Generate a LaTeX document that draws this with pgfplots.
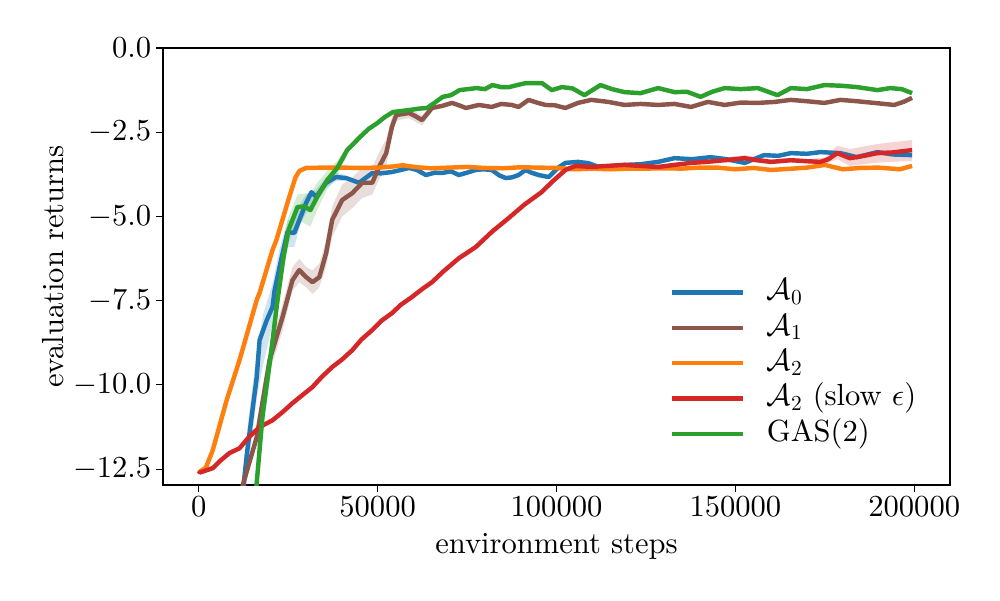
\documentclass[border=0pt]{standalone}
\DeclareFontShape{OT1}{cmr}{m}{n}{<->cmr10}{}
\DeclareFontShape{OML}{cmm}{m}{it}{<->cmmi10}{}
\DeclareFontShape{OMS}{cmsy}{m}{n}{<->cmsy10}{}
\DeclareFontShape{TU}{lmr}{m}{n}{<-> "[lmroman10-regular]:mapping=tex-text"}{}
\usepackage{pgfplots}
\pgfplotsset{compat=1.18}
\definecolor{cA}{HTML}{1F77B4}
\definecolor{cB}{HTML}{8C564B}
\definecolor{cC}{HTML}{FF7F0E}
\definecolor{cD}{HTML}{D62728}
\definecolor{cE}{HTML}{2CA02C}
\newcommand{\fs}{\fontsize{22}{26}\selectfont}
\begin{document}
\begin{tikzpicture}
\useasboundingbox (0,0) rectangle (720pt,432pt);
\begin{axis}[
  at={(117.36pt,82.8pt)}, anchor=south west,
  width=566.64pt, height=314.64pt, scale only axis,
  xmin=-10000, xmax=210000, ymin=-12.97, ymax=0,
  xtick={0,50000,100000,150000,200000},
  ytick={-12.5,-10,-7.5,-5,-2.5,0},
  scaled x ticks=false,
  xticklabel style={/pgf/number format/fixed,/pgf/number format/1000 sep={}},
  yticklabel style={/pgf/number format/fixed,/pgf/number format/precision=1,/pgf/number format/fixed zerofill},
  tick label style={font=\fs},
  label style={font=\fs},
  xlabel={environment steps}, ylabel={evaluation returns},
  xlabel style={yshift=-5pt},
  tick align=outside, tick pos=left,
  major tick length=5pt,
  every tick/.style={black, line width=0.8pt},
  axis line style={line width=0.8pt},
  legend style={draw=none, fill=none, at={(0.643,0.482)}, anchor=north west, inner sep=0pt,
    font=\fs, row sep=0pt, nodes={inner sep=2pt, text height=16pt, text depth=5.5pt}},
  legend cell align=left,
  legend image code/.code={\draw[#1] (0pt,0pt) -- (51.1pt,0pt); \path (65pt,0pt);},
  every axis plot/.append style={line width=3.2pt, line join=round},
]
% ---------- bands ----------
\addplot[fill=cA, fill opacity=0.2, draw=none, forget plot] coordinates {
(12000,-13.0)(14000,-10.9)(16200,-9.0)(18000,-7.9)(20600,-7.0)(22500,-6.0)(24800,-5.1)(26700,-5.1)(28500,-4.6)(30000,-4.35)(32800,-4.2)(35600,-3.85)(38400,-3.7)(41200,-3.78)
(41200,-3.95)(38400,-3.95)(35600,-4.15)(32800,-4.6)(30000,-4.9)(28500,-5.2)(26700,-5.9)(24800,-5.9)(22500,-7.0)(20600,-8.2)(18000,-9.4)(16200,-10.4)(14000,-12.3)(12000,-14.5)};
\addplot[fill=cB, fill opacity=0.2, draw=none, forget plot] coordinates {
(16200,-11.1)(19800,-8.9)(23400,-7.6)(26200,-6.5)(28100,-6.25)(30000,-6.5)(31800,-6.6)(33700,-6.4)(35600,-5.7)(37300,-4.7)(40100,-4.05)(42900,-3.85)(45700,-3.55)(48500,-3.55)(50400,-3.1)(52400,-2.7)(54000,-2.05)(55200,-1.85)(58800,-1.8)(62400,-2.0)(65200,-1.68)
(65200,-1.9)(62400,-2.3)(58800,-2.08)(55200,-2.15)(54000,-2.6)(52400,-3.5)(50400,-3.9)(48500,-4.35)(45700,-4.45)(42900,-4.75)(40100,-5.0)(37300,-5.6)(35600,-6.5)(33700,-7.1)(31800,-7.3)(30000,-7.1)(28100,-6.95)(26200,-7.2)(23400,-8.4)(19800,-9.6)(16200,-12.0)};
\addplot[fill=cE, fill opacity=0.2, draw=none, forget plot] coordinates {
(17800,-10.5)(20300,-8.5)(21900,-7.1)(23700,-5.8)(25100,-5.0)(27600,-4.35)(31200,-4.3)(33100,-4.0)(35900,-3.65)(38700,-3.35)(41500,-2.9)
(41500,-3.2)(38700,-3.8)(35900,-4.2)(33100,-4.8)(31200,-5.3)(27600,-5.1)(25100,-5.8)(23700,-6.6)(21900,-8.0)(20300,-9.5)(17800,-11.4)};
\addplot[fill=cD, fill opacity=0.2, draw=none, forget plot] coordinates {
(147000,-3.25)(152600,-3.18)(160000,-3.3)(165500,-3.27)(170000,-3.3)(175000,-3.25)(178500,-2.9)(182000,-3.0)(189700,-2.85)(199400,-2.73)
(199400,-3.35)(189700,-3.4)(182000,-3.5)(178500,-3.3)(175000,-3.45)(170000,-3.42)(165500,-3.4)(160000,-3.45)(152600,-3.36)(147000,-3.41)};
% ---------- A0 ----------
\addplot[cA] coordinates {
(11500,-14.0)(13500,-12.0)(16200,-9.77)(17000,-8.67)(19000,-8.08)(20600,-7.69)(21200,-7.19)(23000,-6.3)(24800,-5.46)(26700,-5.49)(28500,-5.0)(30000,-4.6)(31500,-4.28)(32800,-4.42)(35600,-4.0)(38400,-3.83)(41200,-3.86)(44800,-4.0)(48500,-3.71)(51000,-3.72)(54000,-3.68)(56500,-3.62)(58800,-3.56)(61000,-3.62)(63500,-3.77)(66000,-3.7)(68000,-3.71)(70500,-3.66)(72700,-3.77)(75000,-3.7)(77400,-3.62)(79500,-3.6)(81900,-3.62)(84000,-3.78)(85800,-3.86)(87500,-3.84)(89400,-3.77)(91300,-3.62)(93000,-3.7)(95000,-3.77)(97800,-3.83)(100500,-3.55)(102500,-3.41)(106000,-3.38)(109000,-3.42)(112500,-3.56)(116000,-3.5)(119000,-3.47)(123500,-3.45)(128400,-3.38)(133000,-3.27)(138000,-3.3)(143000,-3.24)(147500,-3.3)(152600,-3.41)(158000,-3.18)(162000,-3.2)(165500,-3.12)(170000,-3.14)(173800,-3.09)(179400,-3.12)(184000,-3.24)(187000,-3.16)(189700,-3.09)(194000,-3.16)(199400,-3.18)};
\addlegendentry{$\mathcal{A}_0$}
% ---------- A1 ----------
\addplot[cB] coordinates {
(9500,-14.0)(16200,-11.55)(19800,-9.26)(23400,-7.99)(26200,-6.89)(28100,-6.59)(30000,-6.8)(31800,-6.95)(33700,-6.8)(35600,-6.09)(37300,-5.1)(40100,-4.51)(42900,-4.31)(45700,-4.0)(48500,-4.0)(50400,-3.53)(52400,-3.12)(54000,-2.34)(55200,-1.99)(58800,-1.93)(60500,-2.02)(62400,-2.14)(65200,-1.78)(68000,-1.72)(70800,-1.63)(72700,-1.7)(74700,-1.78)(78300,-1.69)(81900,-1.75)(84500,-1.66)(87500,-1.69)(89400,-1.75)(92200,-1.54)(94500,-1.62)(96900,-1.69)(99500,-1.7)(102500,-1.78)(106000,-1.63)(109700,-1.54)(114500,-1.6)(119000,-1.69)(123500,-1.66)(128400,-1.69)(133000,-1.66)(137600,-1.75)(142300,-1.6)(147000,-1.69)(151500,-1.62)(156300,-1.63)(161000,-1.6)(165500,-1.54)(170000,-1.58)(174900,-1.63)(179400,-1.54)(184000,-1.58)(188800,-1.63)(194400,-1.69)(197000,-1.6)(199400,-1.48)};
\addlegendentry{$\mathcal{A}_1$}
% ---------- A2 ----------
\addplot[cC] coordinates {
(0,-12.6)(2000,-12.45)(3900,-11.94)(7800,-10.45)(11400,-9.26)(16200,-7.48)(17000,-7.27)(20600,-6.0)(21700,-5.7)(25300,-4.42)(27000,-3.85)(28100,-3.65)(30000,-3.56)(35000,-3.55)(40000,-3.55)(45000,-3.56)(50000,-3.55)(54000,-3.52)(57000,-3.48)(61000,-3.54)(65000,-3.57)(70000,-3.55)(75000,-3.53)(80000,-3.56)(85000,-3.57)(90000,-3.54)(95000,-3.55)(100000,-3.56)(105000,-3.6)(110000,-3.58)(115000,-3.6)(120000,-3.58)(125000,-3.58)(130000,-3.57)(135000,-3.58)(140000,-3.55)(145000,-3.55)(150000,-3.6)(155000,-3.56)(160000,-3.62)(166000,-3.58)(170000,-3.55)(175000,-3.47)(180000,-3.6)(185000,-3.56)(190000,-3.55)(196000,-3.6)(199400,-3.5)};
\addlegendentry{$\mathcal{A}_2$}
% ---------- A2 slow eps ----------
\addplot[cD] coordinates {
(0,-12.55)(300,-12.6)(3900,-12.47)(6000,-12.25)(8600,-12.02)(11400,-11.88)(14000,-11.55)(17000,-11.25)(20600,-11.05)(23500,-10.8)(26200,-10.54)(29000,-10.3)(31800,-10.06)(34500,-9.75)(37300,-9.47)(40000,-9.25)(42900,-8.97)(45500,-8.65)(48500,-8.37)(51000,-8.1)(54000,-7.87)(56500,-7.62)(59600,-7.39)(62500,-7.15)(65200,-6.95)(68500,-6.62)(72700,-6.24)(77400,-5.91)(82000,-5.45)(86600,-5.05)(91000,-4.65)(95800,-4.28)(99000,-3.95)(102500,-3.62)(105300,-3.5)(110000,-3.53)(114000,-3.5)(119000,-3.47)(123500,-3.5)(128400,-3.53)(133000,-3.47)(137600,-3.41)(142000,-3.38)(147000,-3.33)(152600,-3.27)(156000,-3.33)(160000,-3.38)(165500,-3.33)(170000,-3.36)(173800,-3.38)(176000,-3.3)(178500,-3.12)(182000,-3.27)(186000,-3.2)(189700,-3.12)(194000,-3.1)(199400,-3.03)};
\addlegendentry{$\mathcal{A}_2$ (slow $\epsilon$)}
% ---------- GAS(2) ----------
\addplot[cE] coordinates {
(15300,-14.0)(17800,-10.95)(20300,-8.97)(21900,-7.57)(23700,-6.2)(25100,-5.4)(27600,-4.72)(29500,-4.7)(31200,-4.81)(33100,-4.42)(35900,-3.92)(38700,-3.56)(41500,-3.03)(45100,-2.64)(47500,-2.4)(49900,-2.23)(52000,-2.05)(54300,-1.9)(59000,-1.84)(61500,-1.8)(63800,-1.78)(66000,-1.62)(68200,-1.45)(70500,-1.4)(72900,-1.25)(77600,-1.19)(80000,-1.22)(82100,-1.1)(84500,-1.16)(86800,-1.16)(89000,-1.1)(91500,-1.04)(95900,-1.04)(98700,-1.25)(101500,-1.16)(104500,-1.2)(107800,-1.4)(112300,-1.1)(115500,-1.22)(119000,-1.31)(123500,-1.34)(128400,-1.19)(133000,-1.31)(136500,-1.3)(140300,-1.45)(143500,-1.3)(147000,-1.19)(151500,-1.22)(156300,-1.19)(161800,-1.4)(165500,-1.19)(170000,-1.22)(174900,-1.1)(179500,-1.12)(184000,-1.16)(189700,-1.25)(193300,-1.19)(196500,-1.22)(199400,-1.34)};
\addlegendentry{GAS(2)}
\end{axis}
\end{tikzpicture}
\end{document}
